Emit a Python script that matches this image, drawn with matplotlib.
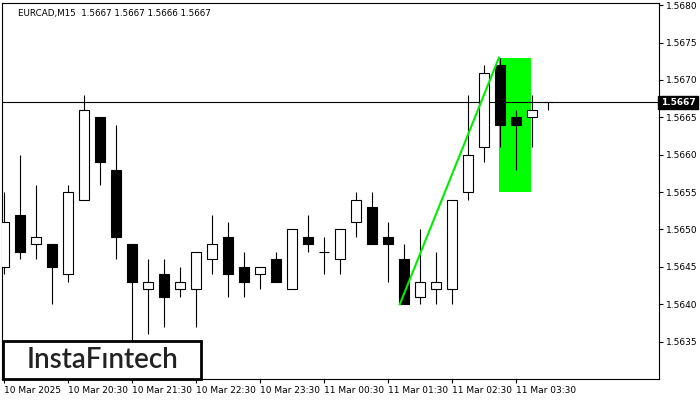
import matplotlib
matplotlib.use('Agg')
import matplotlib.pyplot as plt
from matplotlib.patches import Rectangle

# EURCAD M15 candles
opens  = [1.5645, 1.5652, 1.5648, 1.5648, 1.5644, 1.5654, 1.5665, 1.5658, 1.5648, 1.5642,
          1.5644, 1.5642, 1.5642, 1.5646, 1.5649, 1.5645, 1.5644, 1.5646, 1.5642, 1.5649,
          1.5647, 1.5646, 1.5651, 1.5653, 1.5649, 1.5646, 1.5641, 1.5642, 1.5642, 1.5655,
          1.5661, 1.5672, 1.5665, 1.5665, 1.5667]
highs  = [1.5655, 1.5660, 1.5656, 1.5648, 1.5656, 1.5668, 1.5665, 1.5664, 1.5648, 1.5646,
          1.5646, 1.5645, 1.5647, 1.5652, 1.5651, 1.5647, 1.5645, 1.5647, 1.5650, 1.5652,
          1.5649, 1.5650, 1.5655, 1.5655, 1.5651, 1.5648, 1.5650, 1.5647, 1.5654, 1.5668,
          1.5672, 1.5673, 1.5666, 1.5668, 1.5667]
lows   = [1.5644, 1.5646, 1.5646, 1.5640, 1.5643, 1.5654, 1.5656, 1.5646, 1.5634, 1.5636,
          1.5637, 1.5641, 1.5637, 1.5644, 1.5641, 1.5641, 1.5642, 1.5643, 1.5642, 1.5647,
          1.5644, 1.5644, 1.5649, 1.5648, 1.5643, 1.5640, 1.5640, 1.5640, 1.5640, 1.5654,
          1.5659, 1.5661, 1.5658, 1.5661, 1.5666]
closes = [1.5651, 1.5647, 1.5649, 1.5645, 1.5655, 1.5666, 1.5659, 1.5649, 1.5643, 1.5643,
          1.5641, 1.5643, 1.5647, 1.5648, 1.5644, 1.5643, 1.5645, 1.5643, 1.5650, 1.5648,
          1.5647, 1.5650, 1.5654, 1.5648, 1.5648, 1.5640, 1.5643, 1.5643, 1.5654, 1.5660,
          1.5671, 1.5664, 1.5664, 1.5666, 1.5667]

xtick_idx = [0, 4, 8, 12, 16, 20, 24, 28, 32]
xtick_labels = ['10 Mar 2025', '10 Mar 20:30', '10 Mar 21:30', '10 Mar 22:30', '10 Mar 23:30',
                '11 Mar 00:30', '11 Mar 01:30', '11 Mar 02:30', '11 Mar 03:30']
yticks = [1.5635, 1.5640, 1.5645, 1.5650, 1.5655, 1.5660, 1.5665, 1.5670, 1.5675, 1.5680]

last_price = 1.5667
title = 'EURCAD,M15  1.5667 1.5667 1.5666 1.5667'

# pattern: flag pole and flag box
pole_x = [24.75, 30.95]
pole_y = [1.5640, 1.5673]
flag_x = [30.95, 32.95]
flag_y = [1.5655, 1.5673]

fig = plt.figure(figsize=(7, 4), dpi=100)
ax = fig.add_axes([0.003, 0.0525, 0.938, 0.94])

width = 0.62
for i, (o, h, l, c) in enumerate(zip(opens, highs, lows, closes)):
    ax.vlines(i, l, h, color='black', linewidth=0.8, zorder=2)
    fill = 'white' if c > o else 'black'
    if c == o:
        ax.hlines(o, i - width / 2, i + width / 2, color='black', linewidth=0.8, zorder=3)
    else:
        ax.add_patch(Rectangle((i - width / 2, min(o, c)), width, abs(c - o),
                               facecolor=fill, edgecolor='black', linewidth=0.8, zorder=3))

ax.add_patch(Rectangle((flag_x[0], flag_y[0]), flag_x[1] - flag_x[0], flag_y[1] - flag_y[0],
                       facecolor='#00ff00', edgecolor='none', zorder=1))
ax.plot(pole_x, pole_y, color='#00ee00', linewidth=1.5, zorder=4)

ax.axhline(last_price, color='black', linewidth=0.8, zorder=1)

ax.set_xlim(-0.125, 40.94)
ax.set_ylim(1.5630, 1.56803)

ax.yaxis.tick_right()
ax.set_yticks(yticks)
ax.set_yticklabels(['%.4f' % v for v in yticks])
ax.set_xticks(xtick_idx)
ax.set_xticklabels(xtick_labels, ha='left')
ax.tick_params(axis='both', direction='out', length=3, width=0.8, labelsize=6.5, pad=2)
for s in ax.spines.values():
    s.set_linewidth(0.8)

# current price tag
ax.text(1.003, last_price, '1.5667', transform=ax.get_yaxis_transform(), ha='left', va='center',
        fontsize=6.5, color='white', fontweight='bold',
        bbox=dict(boxstyle='square,pad=0.25', facecolor='black', edgecolor='black'))

ax.text(0.024, 0.985, title, transform=ax.transAxes, fontsize=6.3, va='top', ha='left')

# logo
fig.patches.append(Rectangle((0.004, 0.0525), 0.283, 0.096, transform=fig.transFigure,
                             facecolor='white', edgecolor='black', linewidth=2, zorder=10))
fig.text(0.146, 0.1, 'InstaF\u0131ntech', fontsize=20, family='Lato', fontweight='semibold',
         color='#222222', ha='center', va='center', zorder=11)

fig.savefig('out.png', dpi=100)
